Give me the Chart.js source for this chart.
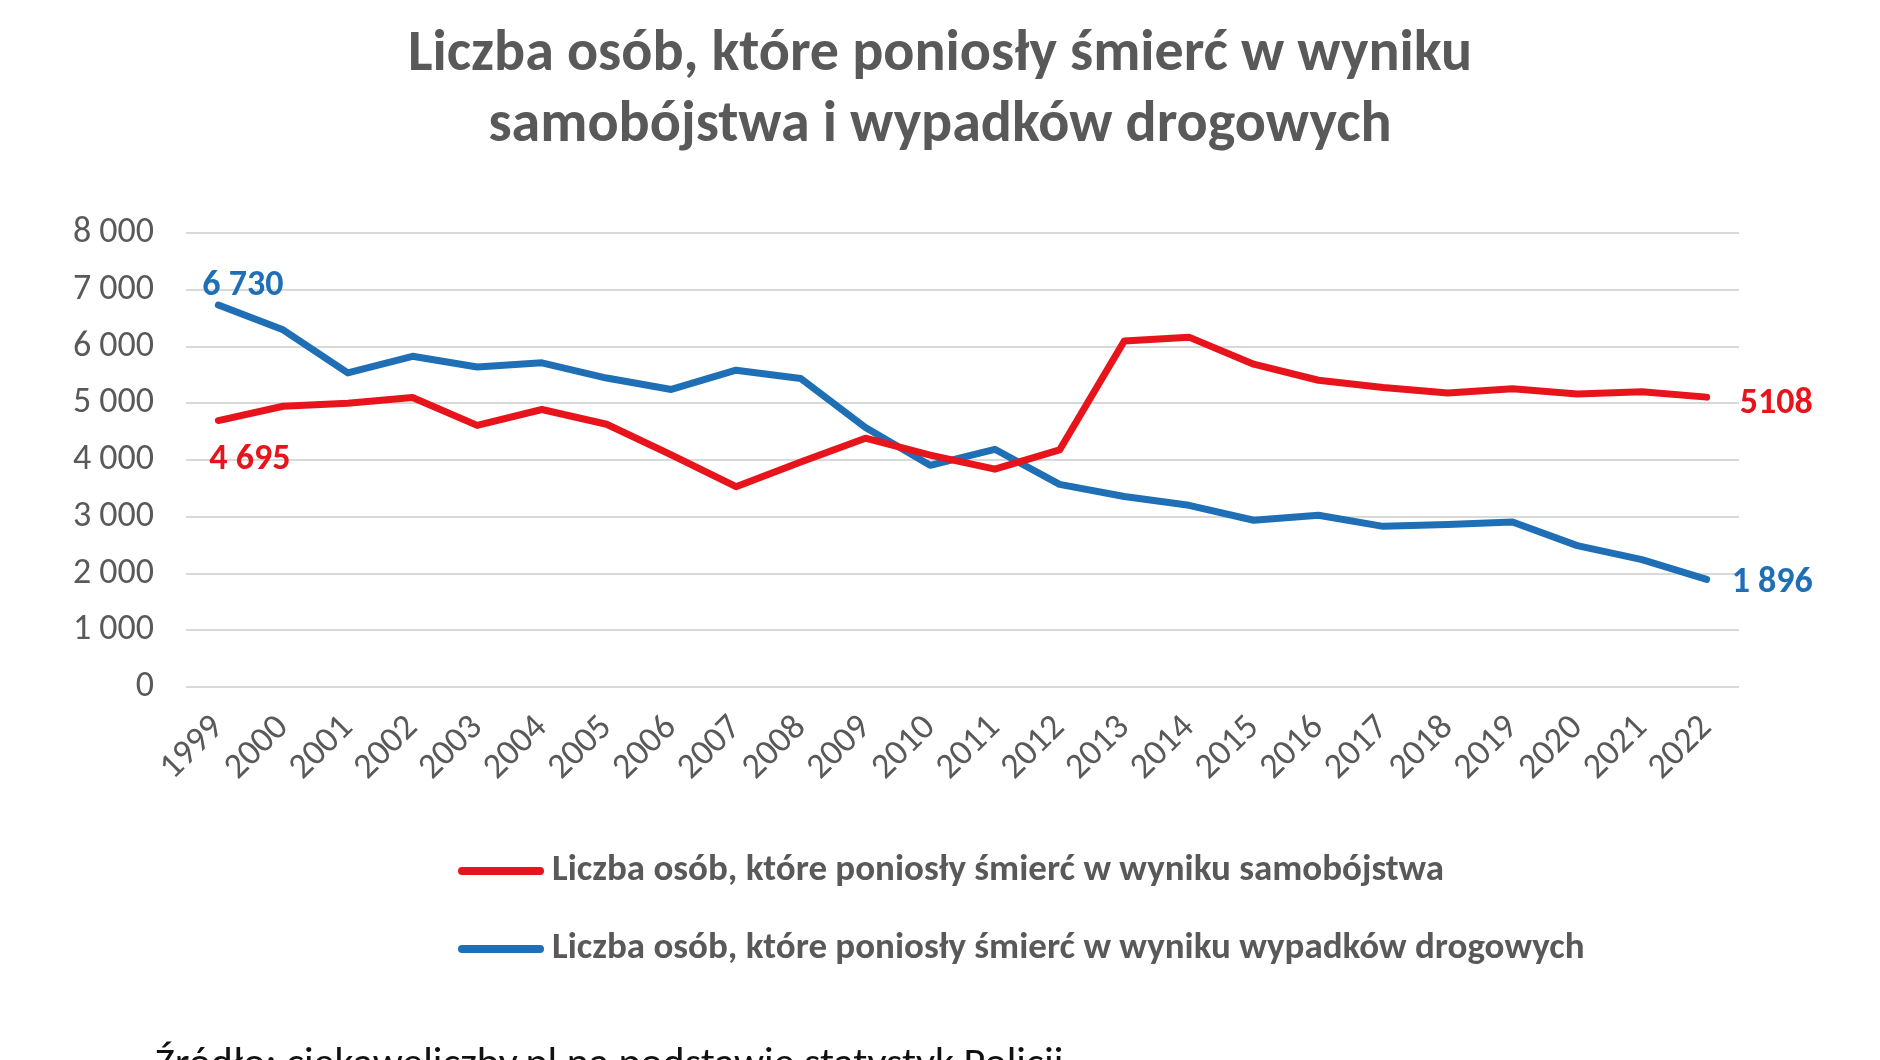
<!DOCTYPE html>
<html>
<head>
<meta charset="utf-8">
<script src="https://cdn.jsdelivr.net/npm/chart.js@4/dist/chart.umd.min.js"></script>
<style>
  body { margin: 0; background: #fff; }
</style>
</head>
<body>
<canvas id="chart" width="1880" height="1060"></canvas>
<script>
const years = ['1999', '2000', '2001', '2002', '2003', '2004', '2005', '2006', '2007', '2008', '2009', '2010',
    '2011', '2012', '2013', '2014', '2015', '2016', '2017', '2018', '2019', '2020', '2021', '2022'];

// samobójstwa
const suicides = [4695, 4947, 5000, 5100, 4610, 4890, 4630, 4090, 3530, 3964, 4384, 4087,
    3839, 4177, 6097, 6165, 5688, 5405, 5276, 5182, 5255, 5165, 5201, 5108];

// wypadki drogowe
const roadDeaths = [6730, 6294, 5534, 5827, 5640, 5712, 5444, 5243, 5583, 5437, 4572, 3907,
    4189, 3571, 3357, 3202, 2938, 3026, 2831, 2862, 2909, 2491, 2245, 1896];

const seriesNames = [
    'Liczba osób, które poniosły śmierć w wyniku samobójstwa',
    'Liczba osób, które poniosły śmierć w wyniku wypadków drogowych'
];
const titleLines = ['Liczba osób, które poniosły śmierć w wyniku', 'samobójstwa i wypadków drogowych'];
const sourceText = 'Źródło: ciekaweliczby.pl na podstawie statystyk Policji';

// etykiety na końcach linii (tak jak w oryginale)
const suicideEndLabels = ['4 695', '5108'];
const roadEndLabels = ['6 730', '1 896'];

const FONT = 'Carlito, Lato, "Open Sans", sans-serif';
const RED = '#E8141C';
const BLUE = '#1F6FB6';
const GREY = '#595959';

function spaced(v) {
    return String(v).replace(/\B(?=(\d{3})+(?!\d))/g, ' ');
}

// etykiety danych, legenda i źródło
const extras = {
    id: 'extras',
    afterDraw(chart) {
        const ctx = chart.ctx;
        ctx.save();

        // etykiety pierwszego i ostatniego punktu
        const red = chart.getDatasetMeta(0).data;
        const blue = chart.getDatasetMeta(1).data;
        const last = red.length - 1;
        ctx.font = 'bold 36px ' + FONT;
        ctx.textBaseline = 'middle';
        ctx.textAlign = 'left';
        ctx.fillStyle = BLUE;
        ctx.fillText(roadEndLabels[0], blue[0].x - 16, blue[0].y - 19);
        ctx.fillText(roadEndLabels[1], blue[last].x + 25, blue[last].y + 4);
        ctx.fillStyle = RED;
        ctx.fillText(suicideEndLabels[0], red[0].x - 9, red[0].y + 39);
        ctx.fillText(suicideEndLabels[1], red[last].x + 33, red[last].y + 7);

        // legenda
        const rows = [871, 949];
        chart.data.datasets.forEach((ds, i) => {
            ctx.strokeStyle = ds.borderColor;
            ctx.lineWidth = 8;
            ctx.lineCap = 'round';
            ctx.beginPath();
            ctx.moveTo(462, rows[i]);
            ctx.lineTo(540, rows[i]);
            ctx.stroke();
            ctx.fillStyle = GREY;
            ctx.font = 'bold 37px ' + FONT;
            ctx.fillText(ds.label, 552, rows[i]);
        });

        // źródło
        ctx.fillStyle = '#111';
        ctx.font = '42px ' + FONT;
        ctx.textBaseline = 'alphabetic';
        ctx.fillText(sourceText, 155, 1076);
        ctx.restore();
    }
};

new Chart(document.getElementById('chart').getContext('2d'), {
    type: 'line',
    data: {
        labels: years,
        datasets: [{
            label: seriesNames[0],
            data: suicides,
            borderColor: RED,
            backgroundColor: RED
        }, {
            label: seriesNames[1],
            data: roadDeaths,
            borderColor: BLUE,
            backgroundColor: BLUE
        }]
    },
    options: {
        responsive: false,
        animation: false,
        layout: { padding: { left: 0, right: 0, top: 0, bottom: 263 } },
        elements: {
            line: { borderWidth: 7, tension: 0, borderJoinStyle: 'round', borderCapStyle: 'round' },
            point: { radius: 0, hoverRadius: 0 }
        },
        plugins: {
            legend: { display: false },
            tooltip: { enabled: false },
            title: {
                display: true,
                text: titleLines,
                color: GREY,
                font: { family: FONT, size: 58, weight: 'bold', lineHeight: '71px' },
                padding: { top: 20, bottom: 71 }
            }
        },
        scales: {
            x: {
                offset: true,
                grid: { display: false },
                border: { display: false },
                ticks: {
                    color: GREY,
                    font: { family: FONT, size: 36 },
                    minRotation: 45,
                    maxRotation: 45,
                    autoSkip: false,
                    padding: 12
                },
                afterFit: scale => { scale.height = 110; }
            },
            y: {
                min: 0,
                max: 8000,
                border: { display: false },
                grid: { color: '#D9D9D9', lineWidth: 2, drawTicks: false },
                ticks: {
                    stepSize: 1000,
                    color: GREY,
                    font: { family: FONT, size: 36 },
                    padding: 32,
                    callback: v => spaced(v)
                },
                afterFit: scale => { scale.width = 186; }
            },
            // pusta oś po prawej, żeby zostawić miejsce na etykiety końcowe
            pad: {
                type: 'linear',
                position: 'right',
                grid: { display: false },
                border: { display: false },
                ticks: { display: false },
                afterFit: scale => { scale.width = 141; }
            }
        }
    },
    plugins: [extras]
});
</script>
</body>
</html>
